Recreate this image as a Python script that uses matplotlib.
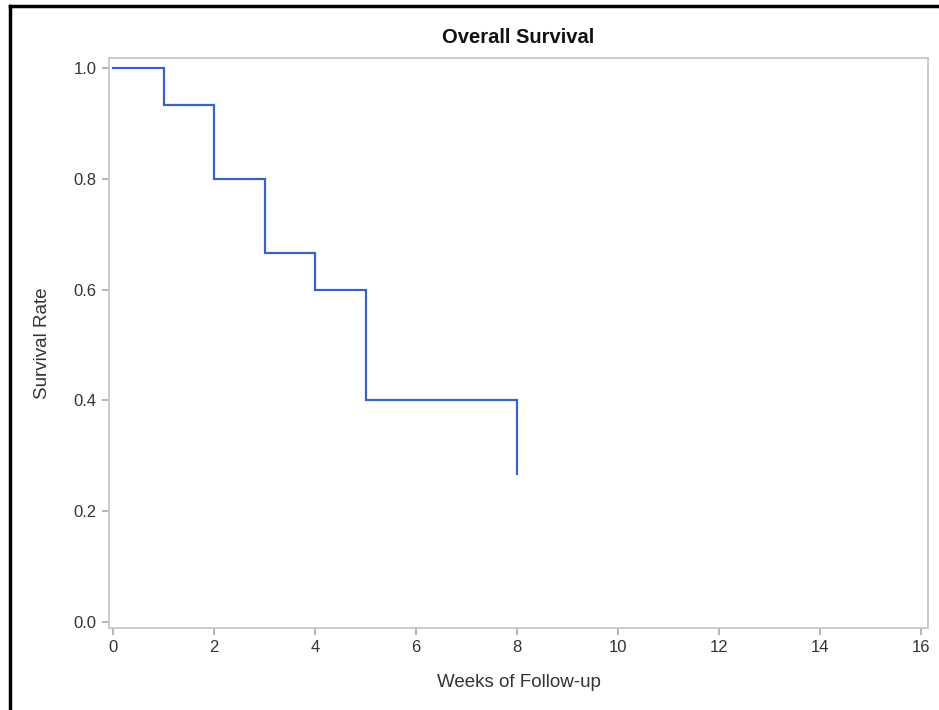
import matplotlib.pyplot as plt
from matplotlib.lines import Line2D

plt.rcParams['font.family'] = ['Liberation Sans', 'DejaVu Sans']

# Kaplan-Meier step data (15 subjects)
weeks = [0, 1, 2, 3, 4, 5, 8]
survival = [1.0, 14 / 15, 12 / 15, 10 / 15, 9 / 15, 6 / 15, 4 / 15]
x_ticks = [0, 2, 4, 6, 8, 10, 12, 14, 16]
y_ticks = [0.0, 0.2, 0.4, 0.6, 0.8, 1.0]

fig = plt.figure(figsize=(9.39, 7.10), dpi=100)
ax = fig.add_axes([0.1161, 0.1155, 0.8722, 0.8028])

# step curve: horizontal to next event, then drop
xs, ys = [weeks[0]], [survival[0]]
for i in range(1, len(weeks)):
    xs += [weeks[i], weeks[i]]
    ys += [survival[i - 1], survival[i]]
ax.plot(xs, ys, color='#3a62c4', lw=1.6, solid_joinstyle='miter')

ax.set_xlim(-0.08, 16.14)
ax.set_ylim(-0.011, 1.018)
ax.set_xticks(x_ticks)
ax.set_yticks(y_ticks)
ax.set_yticklabels([f'{v:.1f}' for v in y_ticks])

for s in ax.spines.values():
    s.set_color('#c4c4c4')
    s.set_linewidth(1.2)
ax.tick_params(colors='#a8a8a8', labelcolor='#333333', length=5, width=1.2,
               labelsize=12, pad=4)

ax.set_title('Overall Survival', fontsize=14.5, fontweight='bold', color='#111111', pad=10.5)
ax.set_xlabel('Weeks of Follow-up', fontsize=13.5, color='#333333', labelpad=13)
ax.set_ylabel('Survival Rate', fontsize=13.5, color='#333333', labelpad=16)

# black frame on the top and left edges of the screenshot
fig.add_artist(Line2D([10 / 939, 1.0], [1 - 6 / 710, 1 - 6 / 710], color='black', lw=2.5))
fig.add_artist(Line2D([10 / 939, 10 / 939], [0.0, 1 - 6 / 710], color='black', lw=2.5))

fig.savefig('out.png', dpi=100)
